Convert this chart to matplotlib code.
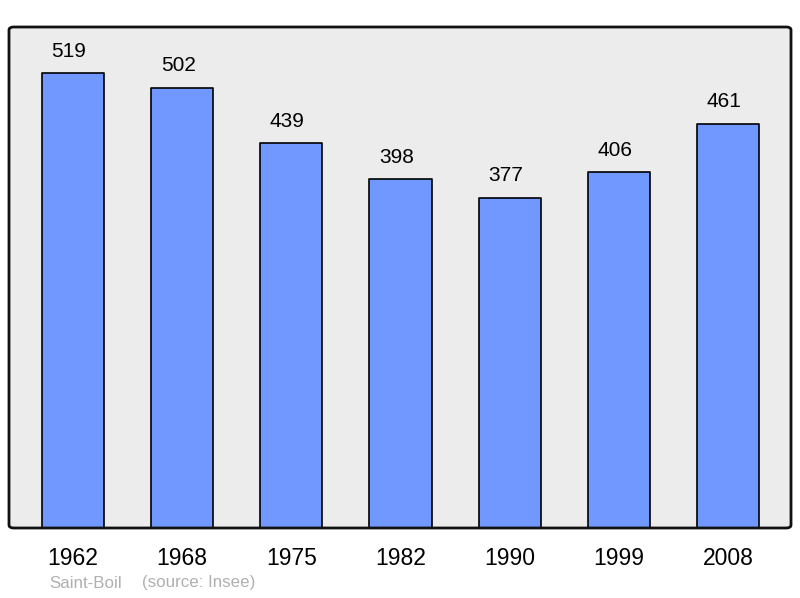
import matplotlib.pyplot as plt
from matplotlib.patches import FancyBboxPatch

years = ["1962", "1968", "1975", "1982", "1990", "1999", "2008"]
population = [519, 502, 439, 398, 377, 406, 461]

plt.rcParams["font.family"] = ["Liberation Sans", "DejaVu Sans"]

fig = plt.figure(figsize=(8, 5.98), dpi=100)
ax = fig.add_axes([9 / 800, 70 / 598, 782 / 800, 501 / 598])
ax.set_facecolor("#ececec")

x = range(len(years))
bars = ax.bar(x, population, width=0.57, color="#7098ff", edgecolor="black", linewidth=1.2, zorder=2)
for b in bars:
    b.set_joinstyle("round")

for xi, v in zip(x, population):
    ax.annotate(str(v), xy=(xi, v), xytext=(-4, 22), textcoords="offset pixels",
                ha="center", va="center", fontsize=15)

ax.set_xlim(-0.585, 6.575)
ax.set_ylim(0, 571.5)
ax.set_yticks([])
ax.set_xticks(list(x))
ax.set_xticklabels(years, fontsize=16.5)
ax.tick_params(axis="x", length=0, pad=14)
for s in ax.spines.values():
    s.set_visible(False)

# rounded frame
frame = FancyBboxPatch((0, 0), 1, 1, boxstyle="round,pad=0,rounding_size=0.006",
                       transform=ax.transAxes, facecolor="none", edgecolor="#111111",
                       linewidth=2, zorder=5, clip_on=False)
ax.add_patch(frame)

fig.text(49 / 800, 1 - 583 / 598, "Saint-Boil", fontsize=12.2,
         color="#b0b0b0", ha="left", va="center")
fig.text(142 / 800, 1 - 583 / 598, "(source: Insee)", fontsize=12.2,
         color="#b0b0b0", ha="left", va="center")

fig.savefig("out.png", dpi=100)
